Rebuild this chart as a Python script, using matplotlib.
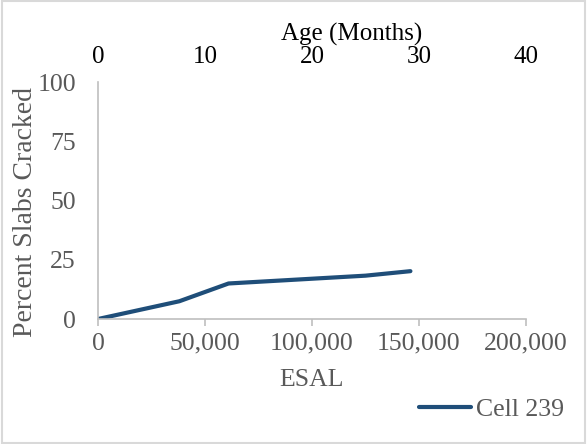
import matplotlib.pyplot as plt

# ESAL vs percent slabs cracked, Cell 239
esal = [0, 38000, 61000, 125000, 146000]
cracked = [0, 7.5, 15, 18.3, 20.2]

esal_ticks = [0, 50000, 100000, 150000, 200000]
pct_ticks = [0, 25, 50, 75, 100]
age_ticks = [0, 10, 20, 30, 40]

grey = "#595959"
plt.rcParams["font.family"] = ["Liberation Serif", "DejaVu Serif"]

fig = plt.figure(figsize=(5.87, 4.44), dpi=100)
ax = fig.add_axes([0.167, 0.2815, 0.729, 0.5335])

ax.plot(esal, cracked, color="#1F4E79", lw=3, solid_capstyle="round", label="Cell 239")

ax.set_xlim(0, 200000)
ax.set_ylim(0, 100)
ax.set_xticks(esal_ticks)
ax.set_xticklabels([f"{v:,}" for v in esal_ticks])
ax.set_yticks(pct_ticks)
ax.tick_params(axis="x", colors="#BFBFBF", labelcolor=grey, labelsize=18.5, length=5, width=1.2, pad=5)
ax.tick_params(axis="y", length=0, labelcolor=grey, labelsize=18.5, pad=16)
for s in ["top", "right"]:
    ax.spines[s].set_visible(False)
for s in ["left", "bottom"]:
    ax.spines[s].set_color("#BFBFBF")
    ax.spines[s].set_linewidth(1.2)
ax.set_xlabel("ESAL", fontsize=18.5, color=grey, labelpad=10)
ax.set_ylabel("Percent Slabs Cracked", fontsize=20, color=grey)
ax.yaxis.set_label_coords(-0.14, 0.45)

# secondary axis for pavement age
ax2 = ax.twiny()
ax2.set_xlim(0, 40)
ax2.set_xticks(age_ticks)
ax2.tick_params(axis="x", length=0, labelsize=18, labelcolor="black", pad=10)
for s in ax2.spines.values():
    s.set_visible(False)
ax2.set_xlabel("Age (Months)", fontsize=18, color="black")
ax2.xaxis.set_label_coords(0.593, 1.175)

fig.legend(loc="lower right", bbox_to_anchor=(1.0, 0.0), frameon=False,
           fontsize=18.5, handlelength=2.0, handletextpad=0.2, labelcolor=grey)

# light frame round the chart area
fig.patches.append(plt.Rectangle((0.003, 0.003), 0.994, 0.994, transform=fig.transFigure,
                                 fill=False, edgecolor="#D9D9D9", lw=1.5))

fig.savefig("out.png", dpi=100)
